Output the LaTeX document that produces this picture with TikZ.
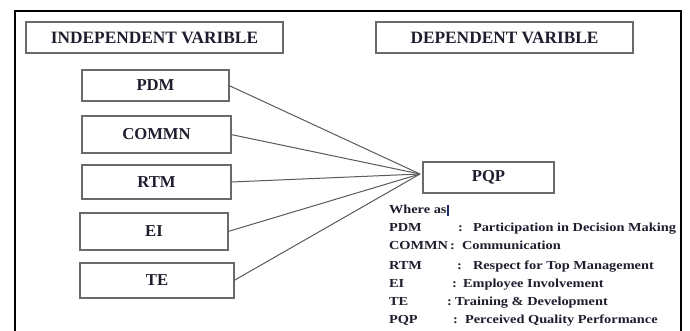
\documentclass[tikz,border=0pt]{standalone}
\usepackage{fontspec}
\setmainfont{Liberation Serif}
\usepackage{graphicx}
\definecolor{boxline}{HTML}{6A6A6A}
\definecolor{wire}{HTML}{5A5A5A}
\definecolor{ink}{HTML}{1E1E2E}
\definecolor{caret}{HTML}{1A2A6A}
% legend text is set slightly wider than its height
\newcommand{\widetext}[1]{\scalebox{1.17}[1]{#1}}
\tikzset{
  vbox/.style={draw=boxline, line width=1pt, fill=white, inner sep=0pt, outer sep=0pt,
    text=ink, font=\bfseries\fontsize{12.5}{14}\selectfont},
  headbox/.style={vbox, font=\bfseries\fontsize{13}{15}\selectfont},
  wire/.style={draw=wire, line width=0.75pt},
  legend/.style={anchor=base west, inner sep=0pt, outer sep=0pt, text=ink,
    font=\bfseries\fontsize{9.2}{10}\selectfont}
}
\begin{document}
\begin{tikzpicture}[x=0.75pt, y=-0.75pt]
  \useasboundingbox (0,0) rectangle (690,330);
  \fill[white] (0,0) rectangle (690,330);

  % outer frame (open at the bottom edge of the page)
  \draw[line width=1.6pt] (15,332) -- (15,11) -- (681,11) -- (681,332);

  % headings
  \node[headbox, minimum width=192.75pt, minimum height=23.25pt] (indep) at (154.5,37.5) {INDEPENDENT VARIBLE};
  \node[headbox, minimum width=192.75pt, minimum height=23.25pt] (dep) at (504.5,37.5) {DEPENDENT VARIBLE};

  % independent variables
  \node[vbox, minimum width=110.25pt, minimum height=23.25pt] (pdm) at (155.5,85.5) {PDM};
  \node[vbox, minimum width=111.75pt, minimum height=27.75pt] (commn) at (156.5,134.5) {COMMN};
  \node[vbox, minimum width=111.75pt, minimum height=25.5pt] (rtm) at (156.5,182) {RTM};
  \node[vbox, minimum width=111pt, minimum height=27.75pt] (ei) at (154,231.5) {EI};
  \node[vbox, minimum width=115.5pt, minimum height=26.25pt] (te) at (157,280.5) {TE};

  % dependent variable
  \node[vbox, minimum width=98.25pt, minimum height=23.25pt] (pqp) at (488.5,177.5) {PQP};

  % all links meet just left of PQP
  \coordinate (hub) at (420,174);
  \foreach \src in {pdm,commn,rtm,ei,te}
    \draw[wire] (\src.east) -- (hub);

  % legend
  \node[legend] (where) at (389,213.5) {\widetext{Where as}};
  \draw[caret, line width=0.9pt] (448,205) -- (448,216);

  \node[legend] (kpdm) at (389,231.5) {\widetext{PDM}};
  \node[legend] (cpdm) at (458,231.5) {\widetext{:}};
  \node[legend] (dpdm) at (473,231.5) {\widetext{Participation in Decision Making}};

  \node[legend] (kcommn) at (389,249.5) {\widetext{COMMN}};
  \node[legend] (ccommn) at (450,249.5) {\widetext{:}};
  \node[legend] (dcommn) at (462,249.5) {\widetext{Communication}};

  \node[legend] (krtm) at (389,269) {\widetext{RTM}};
  \node[legend] (crtm) at (457,269) {\widetext{:}};
  \node[legend] (drtm) at (473,269) {\widetext{Respect for Top Management}};

  \node[legend] (kei) at (389,287) {\widetext{EI}};
  \node[legend] (cei) at (452,287) {\widetext{:}};
  \node[legend] (dei) at (463,287) {\widetext{Employee Involvement}};

  \node[legend] (kte) at (389,305) {\widetext{TE}};
  \node[legend] (cte) at (447,305) {\widetext{:}};
  \node[legend] (dte) at (455,305) {\widetext{Training \& Development}};

  \node[legend] (kpqp) at (389,323) {\widetext{PQP}};
  \node[legend] (cpqp) at (453,323) {\widetext{:}};
  \node[legend] (dpqp) at (465,323) {\widetext{Perceived Quality Performance}};
\end{tikzpicture}
\end{document}
